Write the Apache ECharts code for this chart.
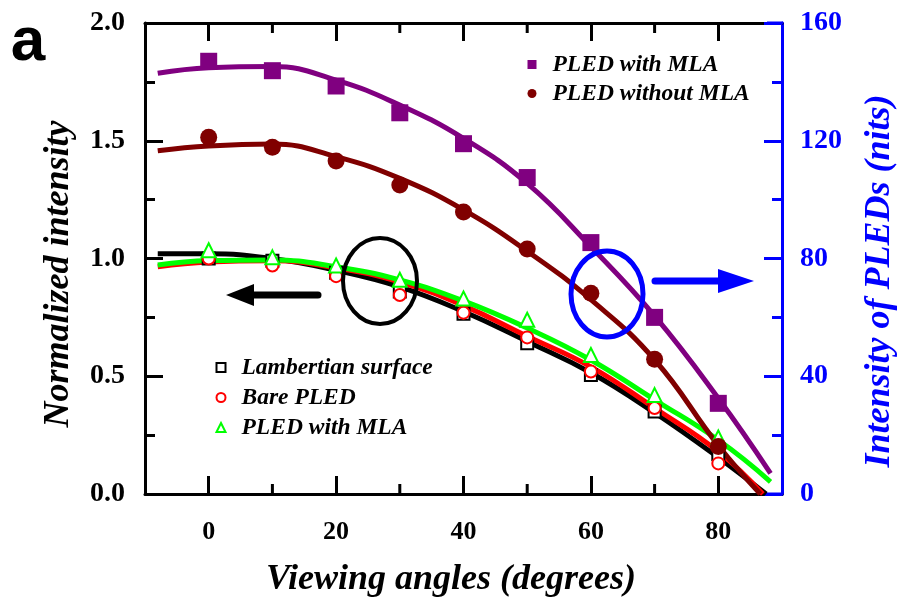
<!DOCTYPE html>
<html>
<head>
<meta charset="utf-8">
<script src="https://cdn.jsdelivr.net/npm/echarts@6/dist/echarts.min.js"></script>
<style>
html,body{margin:0;padding:0;background:#fff;}
#chart{width:901px;height:610px;}
</style>
</head>
<body>
<div id="chart"></div>
<script>
// ---- data ----
const angles = [0, 10, 20, 30, 40, 50, 60, 70, 80];
// left axis: normalized intensity
const lambertian = [1.00, 0.99, 0.94, 0.86, 0.765, 0.64, 0.505, 0.35, 0.17];
const barePLED   = [1.00, 0.97, 0.925, 0.845, 0.77, 0.665, 0.52, 0.365, 0.13];
const mlaNorm    = [1.035, 1.005, 0.97, 0.91, 0.83, 0.74, 0.59, 0.42, 0.24];
// right axis: intensity (nits)
const withMLA    = [147, 143.8, 138.6, 129.5, 119, 107.5, 85.4, 60, 30.8];
const withoutMLA = [121.2, 117.8, 113.1, 105, 95.8, 83.2, 68.2, 45.8, 16.1];
// fitted curves [angle, value]
const lambertFit = [[-8,1.02],[0,1.02],[10,1.0],[20,0.95],[30,0.88],[40,0.775],[50,0.648],[60,0.515],[70,0.345],[80,0.155],[87.5,0.0]];
const bareFit    = [[-8,0.965],[0,0.985],[10,0.99],[20,0.96],[30,0.9],[40,0.8],[50,0.67],[60,0.54],[70,0.365],[80,0.18],[87,0.0]];
const mlaNormFit = [[-8,0.972],[0,0.991],[10,0.994],[20,0.965],[30,0.909],[40,0.82],[50,0.705],[60,0.569],[70,0.4],[80,0.229],[88.2,0.052]];
const withMLAFit = [[-8,142.9],[0,144.8],[10,145.2],[20,140.6],[30,132.1],[40,120.8],[50,105.5],[60,84],[70,60.5],[80,32.5],[88.2,7.0]];
const withoutMLAFit = [[-8,116.6],[0,118.2],[10,118.9],[20,114.6],[30,107.2],[40,96.5],[50,82.5],[60,66],[70,45.6],[80,16.5],[86.6,0]];
// ticks
const xTickLabels = [0, 20, 40, 60, 80];
const xMinorTicks = [10, 30, 50, 70];
const xTitle = 'Viewing angles (degrees)';
const yLeftTitle = 'Normalized intensity';
const yRightTitle = 'Intensity of PLEDs (nits)';

const pairs = (vals) => angles.map((a, i) => [a, vals[i]]);
const SERIF = '"Liberation Serif", "Times New Roman", serif';
const BLUE = '#0000ff';
const TITLE_FONT = 'italic bold 36px "Liberation Serif", "Times New Roman", serif';
const MAJ = 18, MIN = 10, TW = 3;

const legendNames = {
  'nits_with': 'PLED with MLA',
  'nits_without': 'PLED without MLA',
  'lamb': 'Lambertian surface',
  'bare': 'Bare PLED',
  'norm_mla': 'PLED with MLA'
};

const chart = echarts.init(document.getElementById('chart'), null, {renderer: 'canvas'});

const legendText = {fontFamily: SERIF, fontWeight: 'bold', fontStyle: 'italic', fontSize: 23.5, color: '#000', padding: [0, 0, 0, 11]};

function xAxisDef(pos, showLabel) {
  return {
    type: 'value', position: pos, min: -10, max: 90,
    axisLine: {show: true, onZero: false, lineStyle: {color: '#000', width: 3}},
    axisTick: {show: true, inside: true, length: MAJ, customValues: xTickLabels, lineStyle: {color: '#000', width: TW}},
    axisLabel: {show: showLabel, customValues: xTickLabels, margin: 25,
      fontFamily: SERIF, fontWeight: 'bold', fontSize: 26, color: '#000'},
    splitLine: {show: false}
  };
}

const option = {
  backgroundColor: '#fff',
  animation: false,
  grid: {left: 145, right: 119, top: 23, bottom: 116, containLabel: false},
  xAxis: [xAxisDef('bottom', true), xAxisDef('top', false)],
  yAxis: [
    {
      type: 'value', position: 'left', min: 0, max: 2, interval: 0.5,
      axisLine: {show: true, onZero: false, lineStyle: {color: '#000', width: 3}},
      axisTick: {show: true, inside: true, length: MAJ, lineStyle: {color: '#000', width: TW}},
      minorTick: {show: true, splitNumber: 2, length: MIN, lineStyle: {color: '#000', width: TW}},
      axisLabel: {margin: 20, fontFamily: SERIF, fontWeight: 'bold', fontSize: 28, color: '#000',
        formatter: v => v.toFixed(1)},
      splitLine: {show: false}, minorSplitLine: {show: false}
    },
    {
      type: 'value', position: 'right', min: 0, max: 160, interval: 40,
      axisLine: {show: true, onZero: false, lineStyle: {color: BLUE, width: 3}},
      axisTick: {show: true, inside: true, length: MAJ, lineStyle: {color: BLUE, width: TW}},
      minorTick: {show: true, splitNumber: 2, length: MIN, lineStyle: {color: BLUE, width: TW}},
      axisLabel: {margin: 18, fontFamily: SERIF, fontWeight: 'bold', fontSize: 28, color: BLUE},
      splitLine: {show: false}, minorSplitLine: {show: false}
    }
  ],
  legend: [
    {
      data: ['nits_with', 'nits_without'], orient: 'vertical', left: 522.5, top: 48,
      itemWidth: 9, itemHeight: 9, itemGap: 6, selectedMode: false,
      formatter: n => legendNames[n], textStyle: legendText
    },
    {
      data: ['lamb', 'bare', 'norm_mla'], orient: 'vertical', left: 210.5, top: 351,
      itemWidth: 9, itemHeight: 9, itemGap: 7, selectedMode: false,
      formatter: n => legendNames[n], textStyle: legendText
    }
  ],
  series: [
    {name: 'fit_lamb', type: 'line', smooth: 0.45, data: lambertFit, showSymbol: false, yAxisIndex: 0,
      lineStyle: {color: '#000', width: 5}, z: 2},
    {name: 'fit_bare', type: 'line', smooth: 0.45, data: bareFit, showSymbol: false, yAxisIndex: 0,
      lineStyle: {color: '#ff0000', width: 5}, z: 3},
    {name: 'fit_norm', type: 'line', smooth: 0.45, data: mlaNormFit, showSymbol: false, yAxisIndex: 0,
      lineStyle: {color: '#00ff00', width: 5}, z: 4},
    {name: 'fit_without', type: 'line', smooth: 0.45, data: withoutMLAFit, showSymbol: false, yAxisIndex: 1,
      lineStyle: {color: '#800000', width: 5}, z: 5},
    {name: 'fit_with', type: 'line', smooth: 0.45, data: withMLAFit, showSymbol: false, yAxisIndex: 1,
      lineStyle: {color: '#800080', width: 5}, z: 6},
    {name: 'lamb', type: 'scatter', data: pairs(lambertian), yAxisIndex: 0, symbol: 'emptyRect', symbolSize: 12,
      itemStyle: {color: '#000', borderColor: '#000', borderWidth: 2.5, opacity: 1}, z: 7},
    {name: 'bare', type: 'scatter', data: pairs(barePLED), yAxisIndex: 0, symbol: 'emptyCircle', symbolSize: 12,
      itemStyle: {color: '#ff0000', borderColor: '#ff0000', borderWidth: 2.5, opacity: 1}, z: 8},
    {name: 'norm_mla', type: 'scatter', data: pairs(mlaNorm), yAxisIndex: 0, symbol: 'emptyTriangle', symbolSize: 14,
      itemStyle: {color: '#00ff00', borderColor: '#00ff00', borderWidth: 2.5, opacity: 1}, z: 9},
    {name: 'nits_without', type: 'scatter', data: pairs(withoutMLA), yAxisIndex: 1, symbol: 'circle', symbolSize: 17,
      itemStyle: {color: '#800000', opacity: 1}, z: 10},
    {name: 'nits_with', type: 'scatter', data: pairs(withMLA), yAxisIndex: 1, symbol: 'rect', symbolSize: 17,
      itemStyle: {color: '#800080', opacity: 1}, z: 11}
  ],
  graphic: [
    {type: 'text', z: 100, x: 28, y: 43,
      style: {text: 'a', font: 'bold 62px "Liberation Sans", Arial, sans-serif', fill: '#000',
        textAlign: 'center', textVerticalAlign: 'middle'}},
    {type: 'text', z: 100, x: 451, y: 580,
      style: {text: xTitle, font: TITLE_FONT, fill: '#000', textAlign: 'center', textVerticalAlign: 'middle'}},
    {type: 'text', z: 100, x: 59, y: 274, rotation: Math.PI / 2,
      style: {text: yLeftTitle, font: TITLE_FONT, fill: '#000', textAlign: 'center', textVerticalAlign: 'middle'}},
    {type: 'text', z: 100, x: 880, y: 281, rotation: Math.PI / 2,
      style: {text: yRightTitle, font: TITLE_FONT, fill: BLUE, textAlign: 'center', textVerticalAlign: 'middle'}},
    {type: 'ellipse', z: 100, shape: {cx: 380, cy: 281, rx: 37, ry: 43},
      style: {fill: null, stroke: '#000', lineWidth: 4}},
    {type: 'line', z: 100, shape: {x1: 318, y1: 295, x2: 248, y2: 295},
      style: {stroke: '#000', lineWidth: 7, lineCap: 'round'}},
    {type: 'polygon', z: 100, shape: {points: [[226, 295], [254, 284], [254, 306]]},
      style: {fill: '#000'}},
    {type: 'ellipse', z: 100, shape: {cx: 607, cy: 294, rx: 36, ry: 43},
      style: {fill: null, stroke: BLUE, lineWidth: 5}},
    {type: 'line', z: 100, shape: {x1: 655, y1: 281, x2: 725, y2: 281},
      style: {stroke: BLUE, lineWidth: 7, lineCap: 'round'}},
    {type: 'polygon', z: 100, shape: {points: [[754, 281], [718, 269], [718, 293]]},
      style: {fill: BLUE}},
    {type: 'line', z: 100, shape: {x1: 767, y1: 23, x2: 783, y2: 23},
      style: {stroke: BLUE, lineWidth: 3}},
    {type: 'line', z: 100, shape: {x1: 767, y1: 494, x2: 783, y2: 494},
      style: {stroke: BLUE, lineWidth: 3}}
  ]
};
chart.setOption(option);

// minor x ticks (every 10 degrees) on bottom and top, placed through the axis scale
const px = v => chart.convertToPixel({xAxisIndex: 0}, v);
const py = v => chart.convertToPixel({yAxisIndex: 0}, v);
const yB = py(0), yT = py(2);
const minorEls = [];
xMinorTicks.forEach(v => {
  const x = px(v);
  minorEls.push({type: 'line', z: 50, shape: {x1: x, y1: yB, x2: x, y2: yB - MIN}, style: {stroke: '#000', lineWidth: TW}});
  minorEls.push({type: 'line', z: 50, shape: {x1: x, y1: yT, x2: x, y2: yT + MIN}, style: {stroke: '#000', lineWidth: TW}});
});
chart.setOption({graphic: option.graphic.concat(minorEls)});
</script>
</body>
</html>
